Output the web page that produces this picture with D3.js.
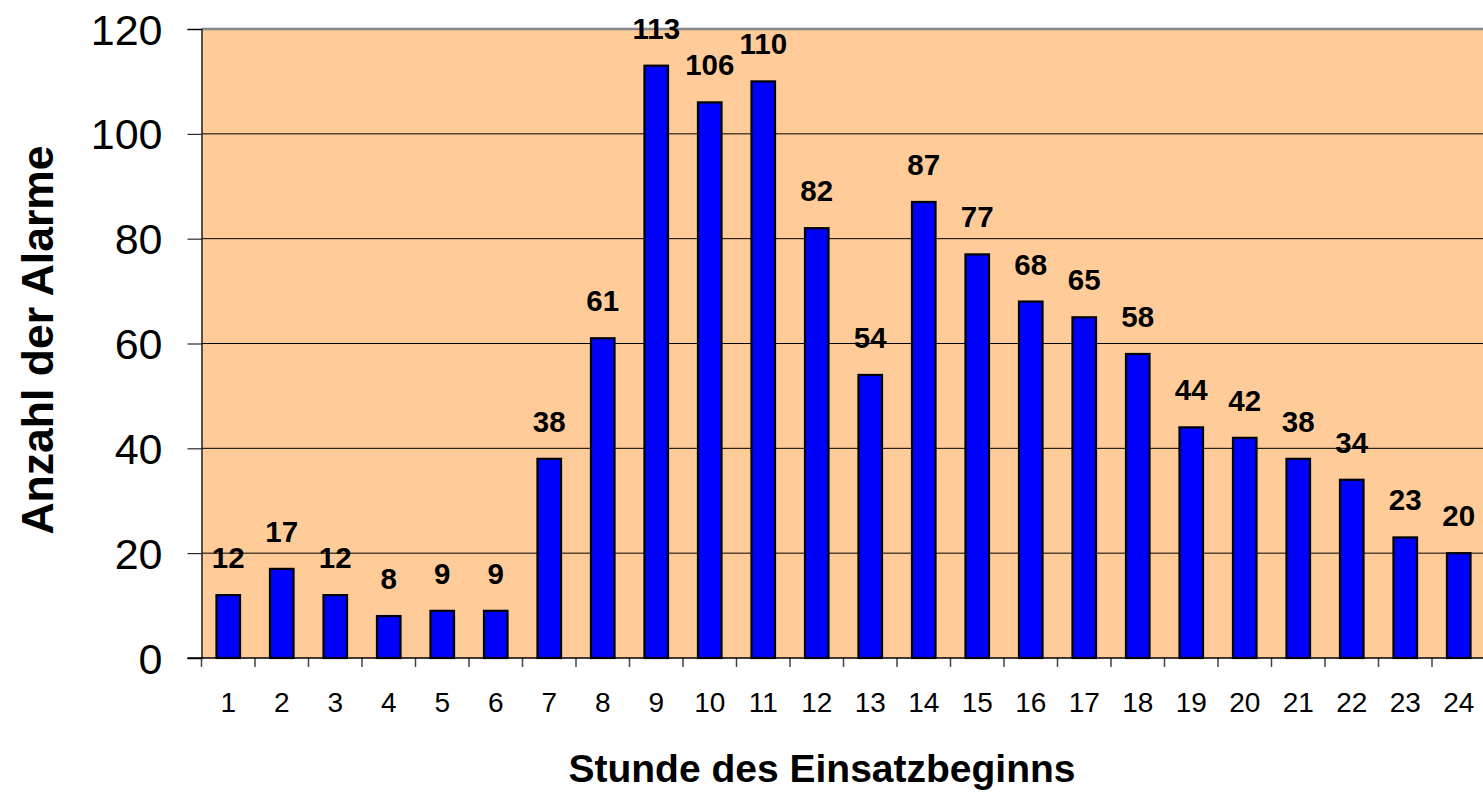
<!DOCTYPE html>
<html>
<head>
<meta charset="utf-8">
<script src="https://cdn.jsdelivr.net/npm/d3@7/dist/d3.min.js"></script>
<style>
html, body { margin: 0; padding: 0; background: #fff; overflow: hidden; }
svg { display: block; font-family: Arial, "Liberation Sans", sans-serif; }
</style>
</head>
<body>
<svg id="chart" width="1483" height="798"></svg>
<script>
const hours = ["1","2","3","4","5","6","7","8","9","10","11","12","13","14","15","16","17","18","19","20","21","22","23","24"];
const alarms = [12,17,12,8,9,9,38,61,113,106,110,82,54,87,77,68,65,58,44,42,38,34,23,20];
const yTicks = [0,20,40,60,80,100,120];
const xTitle = "Stunde des Einsatzbeginns";
const yTitle = "Anzahl der Alarme";

const svg = d3.select("#chart");
const pL = 201.5, pR = 1485.5, pT = 29, pB = 658;

const x = d3.scaleBand().domain(hours).range([pL, pR]).paddingInner(0.56).paddingOuter(0.28);
const xb = d3.scaleBand().domain(hours).range([pL, pR]).padding(0);
const y = d3.scaleLinear().domain([0, 120]).range([pB, pT]);

// plot background
svg.append("rect").attr("x", pL).attr("y", pT).attr("width", pR - pL).attr("height", pB - pT)
  .attr("fill", "#FFCC99");

// gridlines
svg.append("g").selectAll("line").data(yTicks.filter(d => d > 0 && d < 120)).join("line")
  .attr("x1", pL).attr("x2", pR).attr("y1", d => y(d)).attr("y2", d => y(d))
  .attr("stroke", "#000").attr("stroke-width", 1);

// top border
svg.append("line").attr("x1", pL).attr("x2", pR).attr("y1", pT).attr("y2", pT)
  .attr("stroke", "#888").attr("stroke-width", 2.5);

// bars
svg.append("g").selectAll("rect").data(alarms).join("rect")
  .attr("x", (d, i) => x(hours[i]))
  .attr("y", d => y(d))
  .attr("width", x.bandwidth())
  .attr("height", d => y(0) - y(d))
  .attr("fill", "#0000FF").attr("stroke", "#000").attr("stroke-width", 2.2);

// value labels
svg.append("g").selectAll("text").data(alarms).join("text")
  .attr("x", (d, i) => xb(hours[i]) + xb.bandwidth() / 2)
  .attr("y", d => y(d) - 27)
  .attr("text-anchor", "middle")
  .attr("font-weight", "bold").attr("font-size", 29.5)
  .text(d => d);

// y axis
const yAxis = d3.axisLeft(y).tickValues(yTicks).tickSize(14).tickPadding(25).tickFormat(d3.format("d"));
const gy = svg.append("g").attr("transform", `translate(${pL},0)`).call(yAxis);
gy.select(".domain").attr("stroke", "#222").attr("stroke-width", 1.5);
gy.selectAll(".tick line").attr("stroke", "#000").attr("stroke-width", 1);
gy.selectAll(".tick text").attr("font-size", 43).attr("fill", "#000")
  .attr("font-family", "Arial, 'Liberation Sans', sans-serif").attr("dy", "0.35em");

// x axis
const xAxis = d3.axisBottom(xb).tickSize(0).tickPadding(0);
const gx = svg.append("g").attr("transform", `translate(0,${pB})`).call(xAxis);
gx.select(".domain").remove();
gx.selectAll(".tick text").attr("font-size", 28).attr("fill", "#000")
  .attr("font-family", "Arial, 'Liberation Sans', sans-serif").attr("y", 54).attr("dy", 0);
// x tick marks at band boundaries
svg.append("g").selectAll("line").data(hours).join("line")
  .attr("x1", d => xb(d)).attr("x2", d => xb(d))
  .attr("y1", pB).attr("y2", pB + 9)
  .attr("stroke", "#444").attr("stroke-width", 1.5);
svg.append("line").attr("x1", pL - 14).attr("x2", pR).attr("y1", pB).attr("y2", pB)
  .attr("stroke", "#000").attr("stroke-width", 1.5);

// titles
svg.append("text").attr("x", 822).attr("y", 782).attr("text-anchor", "middle")
  .attr("font-weight", "bold").attr("font-size", 39).text(xTitle);
svg.append("text").attr("transform", "translate(53,340) rotate(-90)").attr("text-anchor", "middle")
  .attr("font-weight", "bold").attr("font-size", 44.5).text(yTitle);
</script>
</body>
</html>
